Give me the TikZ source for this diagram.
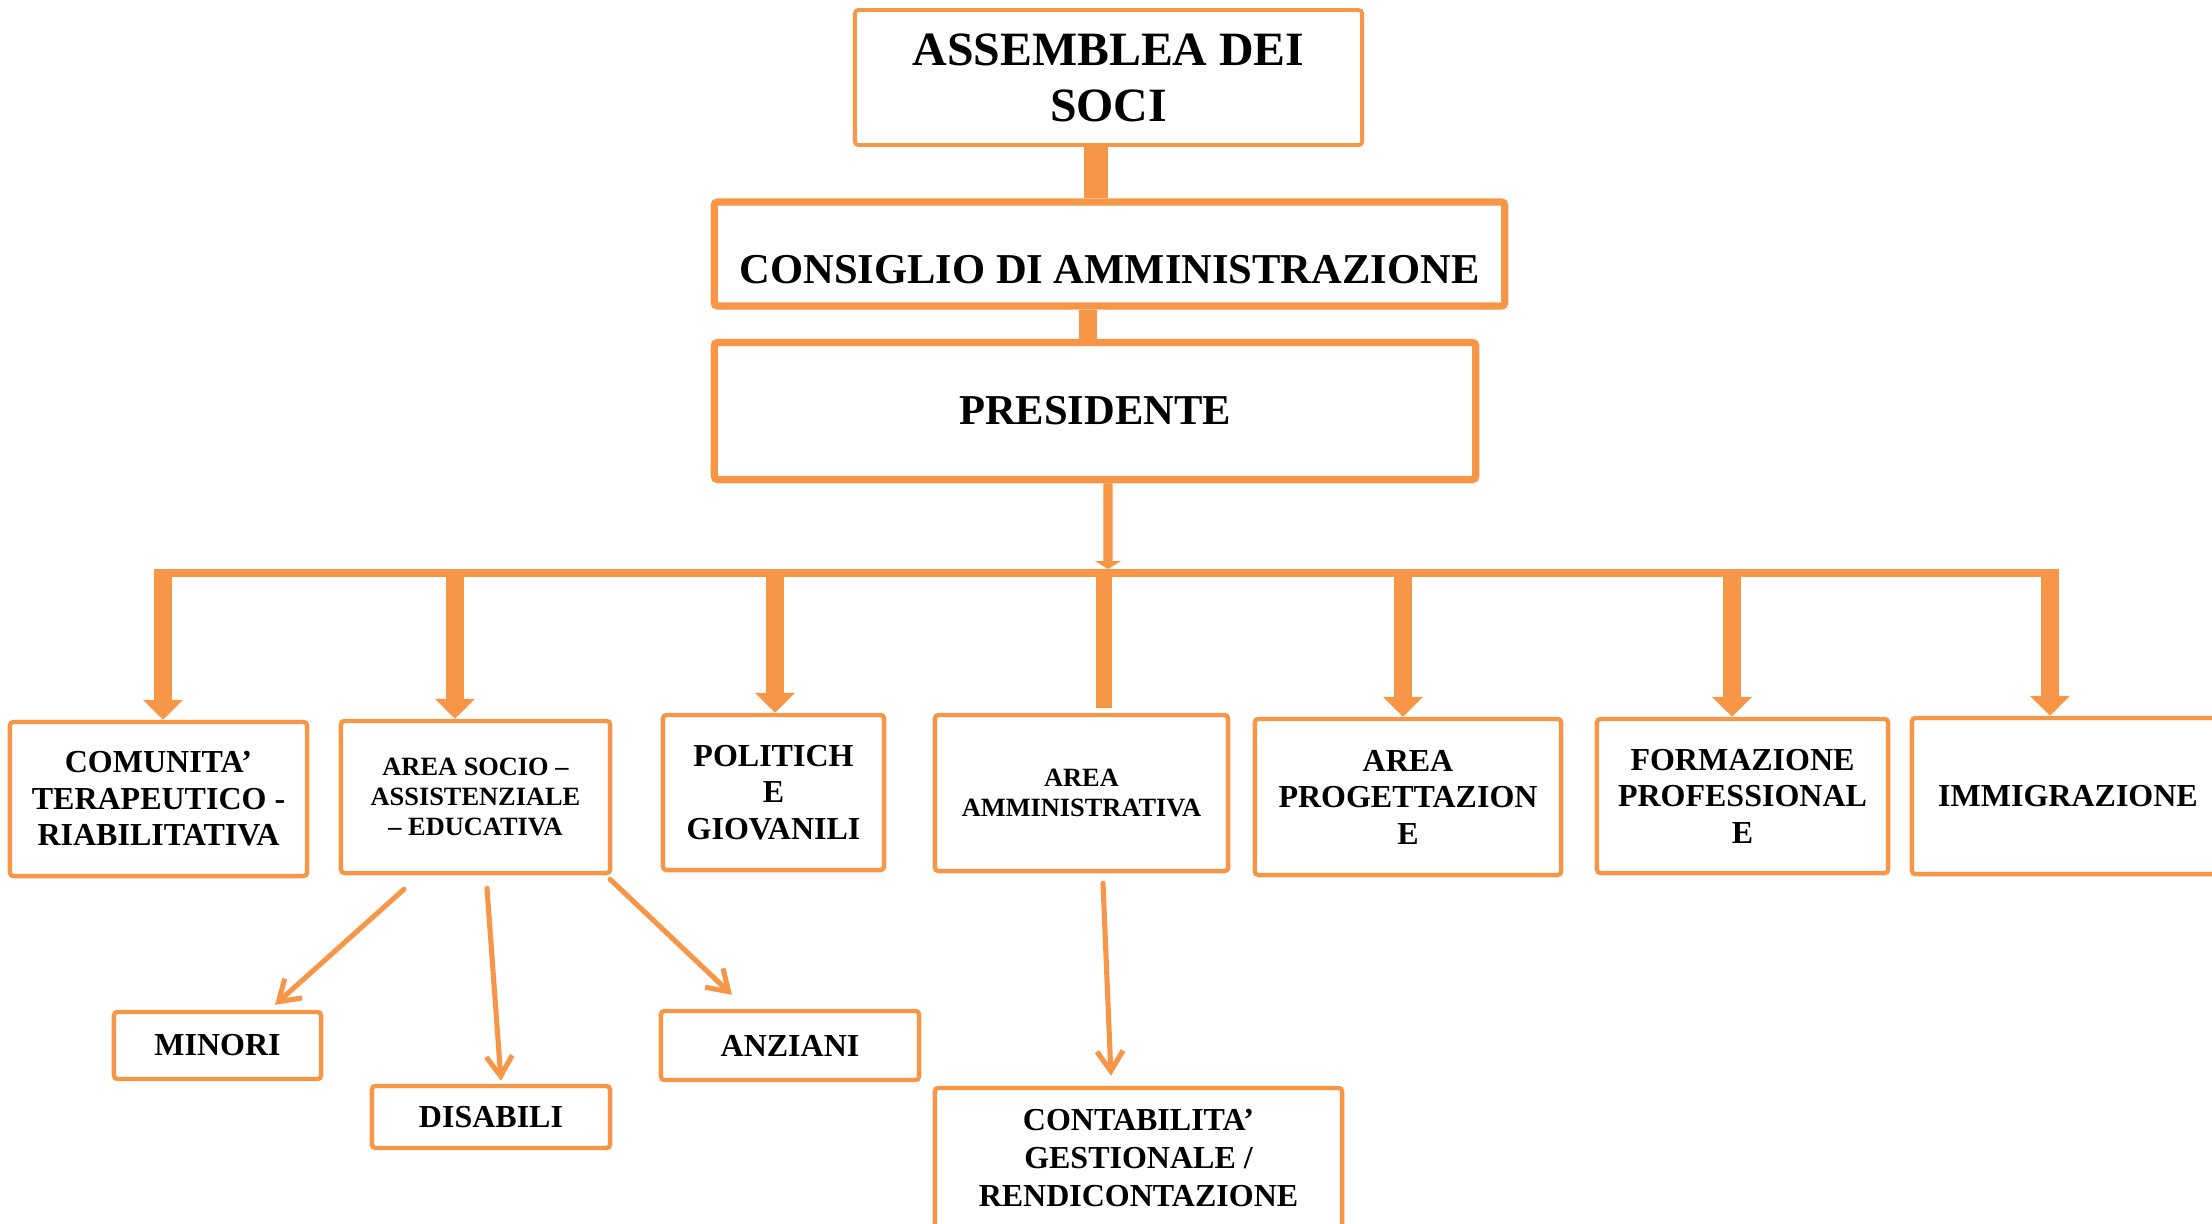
\documentclass[tikz,border=0pt]{standalone}
\usepackage{fontspec}
\setmainfont{Liberation Serif}
\usetikzlibrary{arrows.meta}
\definecolor{orgline}{RGB}{247,150,70}

\begin{document}
\begin{tikzpicture}[x=0.01cm,y=-0.01cm,
	box/.style={draw=orgline,line width=1.25pt,rounded corners=1pt,inner sep=0pt,align=center},
	bigfont/.style={font=\fontsize{13.6}{15.9}\selectfont\bfseries},
	midfont/.style={font=\fontsize{12.1}{14}\selectfont\bfseries},
	areafont/.style={font=\fontsize{9.1}{10.4}\selectfont\bfseries},
	tinyfont/.style={font=\fontsize{7.5}{8.5}\selectfont\bfseries},
	bar/.style={draw=orgline},
	drop/.style={draw=orgline,line width=5.1pt,-{Triangle[width=0.39cm,length=0.2cm]}},
	feed/.style={draw=orgline,line width=2.6pt,-{Triangle[width=0.26cm,length=0.08cm]}},
	branch/.style={draw=orgline,line width=1.45pt,line cap=round,-{Straight Barb[width=0.26cm,length=0.2cm]}}]
	\useasboundingbox (0,0) rectangle (2212,1223);

	% vertici
	\node[box,line width=1.1pt,bigfont,minimum width=5.07cm,minimum height=1.35cm] (assemblea) at (1108.5,77.5) {ASSEMBLEA DEI\\SOCI};
	\node[box,line width=2.1pt,midfont,minimum width=7.9cm,text height=0.81cm,text depth=0.23cm] (consiglio) at (1109.5,254) {CONSIGLIO DI AMMINISTRAZIONE};
	\node[box,line width=2.1pt,midfont,minimum width=7.61cm,minimum height=1.37cm] (presidente) at (1095,411) {PRESIDENTE};

	\draw[bar,line width=6.8pt] ([xshift=-0.125cm]assemblea.south) -- ([xshift=-0.125cm]assemblea.south |- consiglio.north);
	\draw[bar,line width=5.1pt] ([xshift=-0.215cm]consiglio.south) -- ([xshift=-0.215cm]consiglio.south |- presidente.north);

	% aree
	\node[box,areafont,minimum width=2.97cm,minimum height=1.54cm] (comunita) at (158.5,799) {COMUNITA’\\TERAPEUTICO -\\RIABILITATIVA};
	\node[box,tinyfont,minimum width=2.69cm,minimum height=1.52cm] (socio) at (475.5,797) {AREA SOCIO –\\ASSISTENZIALE\\– EDUCATIVA};
	\node[box,areafont,minimum width=2.21cm,minimum height=1.55cm] (politiche) at (773.5,792.5) {POLITICH\\E\\GIOVANILI};
	\node[box,tinyfont,minimum width=2.93cm,minimum height=1.56cm] (amministrativa) at (1081.5,793) {AREA\\AMMINISTRATIVA};
	\node[box,areafont,minimum width=3.06cm,minimum height=1.56cm] (progettazione) at (1408,797) {AREA\\PROGETTAZION\\E};
	\node[box,areafont,minimum width=2.91cm,minimum height=1.54cm] (formazione) at (1742.5,796) {FORMAZIONE\\PROFESSIONAL\\E};
	\node[box,areafont,minimum width=3.12cm,minimum height=1.56cm] (immigrazione) at (2068,796) {IMMIGRAZIONE};

	\coordinate (hub) at (1108,569);
	\coordinate (busW) at (154,573);
	\coordinate (busE) at (2059,573);
	\draw[feed] ([xshift=0.13cm]presidente.south) -- (hub);
	\draw[bar,line width=2.3pt] (busW) -- (busE);
	\foreach \n/\x in {comunita/163,socio/455,politiche/775,progettazione/1403,formazione/1732,immigrazione/2050} {
		\draw[drop] (\x,569) -- (\n.north -| \x,0);
	}
	\draw[bar,line width=4.6pt,shorten >=0.05cm] (1104,569) -- (amministrativa.north -| 1104,0);

	% sotto-aree
	\node[box,areafont,minimum width=2.07cm,minimum height=0.67cm] (minori) at (217.5,1045.5) {MINORI};
	\node[box,areafont,minimum width=2.38cm,minimum height=0.62cm] (disabili) at (491,1117) {DISABILI};
	\node[box,areafont,minimum width=2.58cm,minimum height=0.69cm] (anziani) at (790,1045.5) {ANZIANI};
	\node[box,font=\fontsize{9.1}{10.7}\selectfont\bfseries,minimum width=4.07cm,minimum height=1.4cm] (contabilita) at (1138.5,1158) {CONTABILITA’\\GESTIONALE /\\RENDICONTAZIONE};

	\draw[branch] ([xshift=-0.715cm,yshift=-0.14cm]socio.south) -- ([xshift=0.575cm,yshift=0.05cm]minori.north);
	\draw[branch] ([xshift=0.115cm,yshift=-0.13cm]socio.south) -- ([xshift=0.1cm,yshift=0.03cm]disabili.north);
	\draw[branch] ([xshift=1.345cm,yshift=-0.04cm]socio.south) -- ([xshift=-0.58cm,yshift=0.14cm]anziani.north);
	\draw[branch] ([xshift=0.215cm,yshift=-0.1cm]amministrativa.south) -- ([xshift=-0.275cm,yshift=0.1cm]contabilita.north);
\end{tikzpicture}
\end{document}
